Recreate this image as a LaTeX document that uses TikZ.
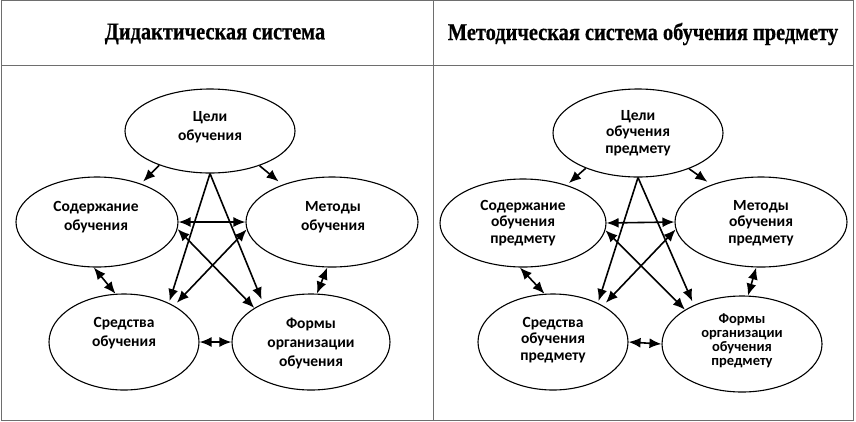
\documentclass[tikz,border=0pt]{standalone}
\usepackage{fontspec}
\setmainfont{Carlito}
\newfontfamily\headfont[FakeStretch=0.85,FakeBold=0.6]{Liberation Serif}
\usetikzlibrary{shapes.geometric,arrows.meta}
\definecolor{bordergray}{RGB}{110,110,110}
\tikzset{
  ell/.style={ellipse,draw=black,line width=1.1pt,inner sep=0pt},
  lbl/.style={align=center,font=\fontsize{15.5}{19}\selectfont\bfseries,inner sep=0pt},
  lblr/.style={align=center,font=\fontsize{15.5}{16.5}\selectfont\bfseries,inner sep=0pt},
  arr/.style={line width=1.6pt,-{Latex[length=12pt,width=10pt]}},
  darr/.style={line width=1.6pt,{Latex[length=12pt,width=10pt]}-{Latex[length=12pt,width=10pt]}},
  head/.style={font=\headfont\fontsize{24}{28}\selectfont\bfseries,inner sep=0pt},
  frame/.style={draw=bordergray,line width=1pt}
}
\newcommand\diaedges[1]{%
  \draw[arr,shorten >=3pt] (#1C.214) -- (#1S.41);
  \draw[arr,shorten >=5pt] (#1C.325) -- (#1M.143);
  \draw[arr,shorten >=2pt] (#1C.south) -- (#1R.41);
  \draw[arr,shorten >=4pt] (#1C.south) -- (#1F.141);
  \draw[darr] (#1S.east) -- (#1M.west);
  \draw[darr] (#1S.-5) -- (#1F.149);
  \draw[darr,shorten >=4pt] (#1M.185) -- (#1R.36);
  \draw[darr] (#1S.266) -- (#1R.100);
  \draw[darr] (#1M.264) -- (#1F.83);
  \draw[darr] (#1R.east) -- (#1F.west);
}
\begin{document}
\begin{tikzpicture}[x=1pt,y=-1pt]
\useasboundingbox (0,0) rectangle (856,421);
% frame
\draw[frame] (1,0.5) rectangle (853,420);
\draw[frame] (1,65) -- (853,65);
\draw[frame] (433,0.5) -- (433,420);
\node[head] (h1) at (215,34) {Дидактическая система};
\node[head] (h2) at (643,34) {Методическая система обучения предмету};
% left diagram
\node[ell,minimum width=170pt,minimum height=84pt] (LC) at (210,131) {};
\node[ell,minimum width=162pt,minimum height=90pt] (LS) at (97,222) {};
\node[ell,minimum width=172pt,minimum height=90pt] (LM) at (332,222) {};
\node[ell,minimum width=150pt,minimum height=96pt] (LR) at (124,342) {};
\node[ell,minimum width=158pt,minimum height=96pt] (LF) at (311,342) {};
\node[lbl] (LCt) at (210,127) {Цели\\обучения};
\node[lbl] (LSt) at (96,217) {Содержание\\обучения};
\node[lbl] (LMt) at (333,217) {Методы\\обучения};
\node[lbl] (LRt) at (124,333) {Средства\\обучения};
\node[lbl] (LFt) at (311,343) {Формы\\организации\\обучения};
\diaedges{L}
% right diagram
\node[ell,minimum width=170pt,minimum height=88pt] (RC) at (638,133) {};
\node[ell,minimum width=166pt,minimum height=88pt] (RS) at (523,223) {};
\node[ell,minimum width=172pt,minimum height=90pt] (RM) at (761,222) {};
\node[ell,minimum width=150pt,minimum height=96pt] (RR) at (553,342) {};
\node[ell,minimum width=160pt,minimum height=96pt] (RF) at (742,344) {};
\node[lblr] (RCt) at (638,133) {Цели\\обучения\\предмету};
\node[lblr] (RSt) at (523,223) {Содержание\\обучения\\предмету};
\node[lblr] (RMt) at (761,223) {Методы\\обучения\\предмету};
\node[lblr] (RRt) at (553,340) {Средства\\обучения\\предмету};
\node[lbl,font=\fontsize{14.5}{14}\selectfont\bfseries] (RFt) at (742,341) {Формы\\организации\\обучения\\предмету};
\diaedges{R}
\end{tikzpicture}
\end{document}
